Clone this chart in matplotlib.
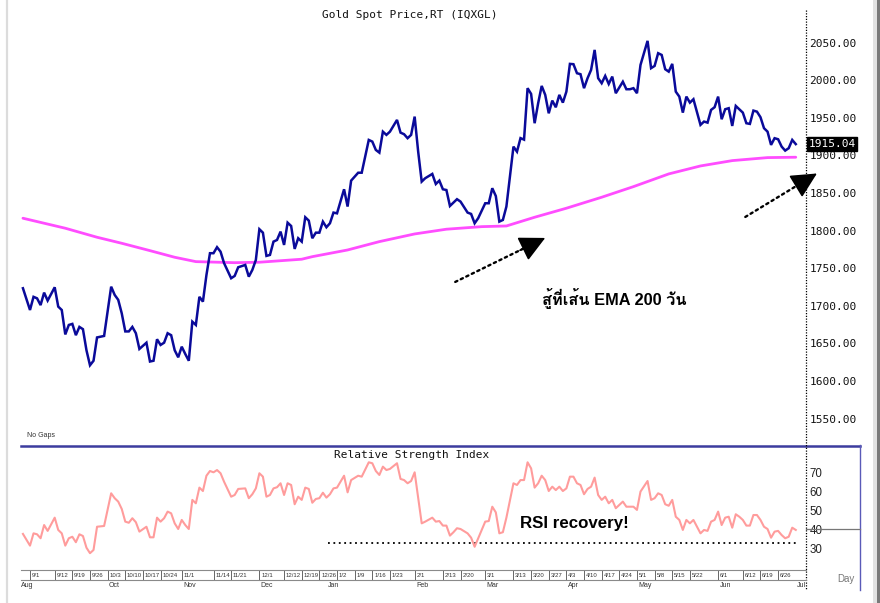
import numpy as np
import matplotlib
matplotlib.use('Agg')
import matplotlib.pyplot as plt
from matplotlib import font_manager as fm
from matplotlib.ft2font import FT2Font

# ---------------- data ----------------
# x = trading-day number counted from Mon 2022-08-29 (weekdays)
price_day = [1, 3, 4, 5, 6, 7, 8, 10, 11, 12, 13, 14, 15, 16, 17, 18, 19, 20, 21, 22,
             24, 26, 27, 28, 29, 30, 31, 32, 33, 34, 36, 37, 38, 39, 40, 41, 42, 43, 44, 45,
             46, 47, 48, 49, 50, 51, 52, 53, 54, 55, 56, 57, 58, 60, 61, 62, 64, 65, 66, 67,
             68, 69, 70, 71, 72, 73, 74, 75, 76, 77, 78, 79, 80, 81, 82, 83, 84, 85, 86, 87,
             88, 89, 90, 92, 93, 94, 96, 97, 99, 100, 101, 102, 103, 104, 105, 107, 108, 109, 110, 111,
             112, 113, 114, 115, 117, 118, 119, 120, 121, 122, 124, 125, 127, 128, 129, 130, 132, 133, 134, 135,
             136, 137, 138, 140, 141, 142, 143, 144, 145, 146, 147, 148, 149, 150, 151, 152, 153, 154, 155, 156,
             157, 158, 159, 160, 161, 162, 163, 164, 165, 166, 167, 168, 169, 171, 172, 173, 174, 175, 176, 178,
             179, 180, 181, 182, 183, 184, 185, 186, 187, 188, 189, 190, 191, 193, 194, 195, 196, 197, 198, 199,
             200, 201, 202, 203, 204, 205, 206, 207, 208, 209, 210, 211, 212, 213, 214, 215, 216, 217, 218, 219, 220]
price_val = [1723.4, 1694.5, 1712.0, 1710.0, 1701.0, 1717.6, 1707.0, 1724.7, 1699.0, 1694.5, 1662.0, 1674.6, 1676.0, 1661.0, 1672.0, 1669.0, 1641.0, 1621.0, 1627.0, 1658.0,
             1660.0, 1725.5, 1714.5, 1708.0, 1690.0, 1666.0, 1666.0, 1672.0, 1663.6, 1642.7, 1651.0, 1626.0, 1627.0, 1655.6, 1648.0, 1651.0, 1663.6, 1661.0, 1641.0, 1631.6,
             1645.7, 1636.0, 1627.0, 1679.0, 1674.6, 1712.0, 1705.6, 1741.0, 1770.0, 1770.0, 1778.0, 1772.0, 1756.7, 1736.7, 1739.8, 1751.3, 1754.4, 1738.8, 1747.7, 1761.0,
             1801.9, 1797.3, 1766.4, 1767.7, 1785.4, 1787.6, 1798.7, 1781.0, 1810.6, 1806.2, 1775.7, 1789.9, 1785.4, 1817.8, 1813.3, 1789.9, 1797.3, 1797.3, 1812.0, 1804.5,
             1809.8, 1824.0, 1823.0, 1855.0, 1832.0, 1866.5, 1877.0, 1877.0, 1920.6, 1918.4, 1907.3, 1903.7, 1931.6, 1927.3, 1931.6, 1947.2, 1930.3, 1928.2, 1922.9, 1927.3,
             1951.6, 1905.0, 1865.2, 1869.7, 1875.4, 1862.0, 1866.5, 1855.0, 1854.0, 1832.8, 1841.8, 1838.6, 1824.0, 1822.2, 1809.8, 1816.5, 1836.4, 1836.4, 1856.4, 1846.0,
             1812.0, 1814.2, 1832.0, 1911.7, 1905.0, 1923.0, 1921.0, 1989.4, 1981.8, 1942.8, 1969.4, 1992.4, 1980.5, 1956.0, 1972.9, 1964.0, 1980.5, 1970.2, 1984.8, 2021.7,
             2021.3, 2009.3, 2008.0, 1989.4, 2002.7, 2013.7, 2040.3, 2002.7, 1996.0, 2005.7, 1995.0, 2004.8, 1982.7, 1998.0, 1988.0, 1988.0, 1989.4, 1982.7, 2020.3, 2052.3,
             2016.0, 2019.0, 2035.9, 2033.6, 2014.6, 2011.4, 2021.7, 1984.8, 1978.2, 1956.9, 1978.2, 1970.2, 1974.7, 1940.6, 1945.0, 1943.6, 1960.5, 1964.1, 1978.2, 1948.1,
             1961.4, 1962.8, 1939.2, 1965.8, 1961.4, 1956.9, 1942.8, 1941.9, 1959.6, 1958.2, 1950.8, 1936.2, 1931.6, 1914.0, 1922.9, 1921.5, 1911.7, 1906.4, 1909.6, 1920.6, 1915.04]

ema_day = [1, 13, 22, 29, 37, 44, 50, 61, 68, 80, 83, 93, 102, 112, 121, 131, 138, 146, 155, 165,
           174, 184, 193, 202, 212, 220]
ema_val = [1816.5, 1803.2, 1791.2, 1783.2, 1773.4, 1764.6, 1758.8, 1757.4, 1758.0, 1762.0, 1765.4, 1774.3, 1785.4, 1795.6, 1801.9, 1805.3, 1806.2, 1817.8, 1829.8, 1844.4,
           1858.5, 1875.4, 1886.0, 1893.1, 1897.1, 1897.6]

rsi_day = [1, 3, 4, 5, 6, 7, 8, 10, 11, 12, 13, 14, 15, 16, 17, 18, 19, 20, 21, 22,
           24, 26, 27, 28, 29, 30, 31, 32, 33, 34, 36, 37, 38, 39, 40, 41, 42, 43, 44, 45,
           46, 47, 48, 49, 50, 51, 52, 53, 54, 55, 56, 57, 58, 60, 61, 62, 64, 65, 66, 67,
           68, 69, 70, 71, 72, 73, 74, 75, 76, 77, 78, 79, 80, 81, 82, 83, 84, 85, 86, 87,
           88, 89, 90, 92, 93, 94, 96, 97, 99, 100, 101, 102, 103, 104, 105, 107, 108, 109, 110, 111,
           112, 114, 115, 117, 118, 119, 120, 121, 122, 123, 124, 125, 127, 128, 129, 132, 133, 134, 135, 136,
           137, 138, 140, 141, 142, 143, 144, 145, 146, 147, 148, 149, 150, 151, 152, 153, 154, 155, 156, 157,
           158, 159, 160, 161, 162, 163, 164, 165, 166, 167, 168, 169, 171, 172, 174, 175, 176, 178, 179, 180,
           181, 182, 183, 184, 185, 186, 187, 188, 189, 190, 191, 193, 194, 195, 196, 197, 198, 199, 200, 201,
           202, 203, 204, 205, 206, 207, 208, 209, 210, 211, 212, 213, 214, 215, 216, 217, 218, 219, 220]
rsi_val = [37.6, 31.4, 37.9, 37.4, 35.3, 42.3, 39.2, 46.2, 39.7, 37.9, 31.4, 35.3, 36.1, 33.2, 37.4, 36.5, 30.3, 27.4, 29.1, 41.4,
           41.8, 59.1, 56.5, 54.7, 50.8, 44.1, 43.5, 45.9, 43.8, 38.8, 41.4, 35.8, 35.8, 46.2, 44.1, 45.9, 49.4, 48.5, 43.2, 40.2,
           45.0, 42.3, 40.2, 55.6, 53.8, 62.1, 60.3, 68.4, 70.9, 70.2, 71.4, 69.7, 65.2, 57.3, 58.2, 61.4, 61.7, 56.5, 58.6, 61.7,
           69.7, 67.9, 57.3, 58.2, 61.7, 62.3, 64.4, 58.2, 64.4, 63.5, 53.3, 57.3, 55.6, 62.1, 61.4, 54.1, 56.1, 56.5, 59.4, 56.8,
           58.6, 61.7, 62.1, 68.4, 59.6, 66.1, 68.4, 67.9, 75.5, 75.0, 70.9, 68.8, 73.2, 71.4, 72.0, 75.0, 66.7, 66.1, 64.4, 65.6,
           70.2, 43.2, 44.1, 46.2, 44.1, 44.4, 42.0, 42.0, 36.7, 38.5, 40.6, 40.2, 37.9, 35.6, 30.8, 44.1, 44.4, 52.0, 49.0, 37.9,
           38.5, 46.2, 64.4, 63.5, 66.1, 66.1, 75.5, 72.3, 62.1, 64.4, 68.4, 66.1, 60.3, 62.6, 60.8, 62.6, 60.3, 61.7, 67.9, 67.9,
           64.4, 63.5, 58.6, 61.4, 62.6, 67.4, 58.2, 55.6, 57.3, 53.8, 55.6, 51.2, 54.7, 52.0, 52.0, 50.3, 60.0, 65.6, 55.6, 56.5,
           59.1, 58.2, 53.3, 52.5, 55.6, 46.7, 45.0, 39.7, 45.0, 43.2, 45.0, 37.9, 39.7, 39.2, 44.1, 45.0, 49.4, 42.3, 46.2, 46.7,
           40.9, 48.0, 46.7, 45.0, 42.0, 42.0, 47.6, 47.6, 45.0, 41.4, 40.2, 35.6, 38.8, 39.2, 37.0, 35.3, 36.1, 40.9, 39.7]

price_ticks = [1550, 1600, 1650, 1700, 1750, 1800, 1850, 1900, 1950, 2000, 2050]
rsi_ticks = [30, 40, 50, 60, 70]
rsi_ref_level = 40
rsi_support_level = 33
rsi_support_span = [87.5, 220.4]

week_dates = ['2022-09-01', '2022-09-12', '2022-09-19', '2022-09-26', '2022-10-03', '2022-10-10', '2022-10-17',
              '2022-10-24', '2022-11-01', '2022-11-14', '2022-11-21', '2022-12-01', '2022-12-12', '2022-12-19',
              '2022-12-26', '2023-01-02', '2023-01-09', '2023-01-16', '2023-01-23', '2023-02-01', '2023-02-13',
              '2023-02-20', '2023-03-01', '2023-03-13', '2023-03-20', '2023-03-27', '2023-04-03', '2023-04-10',
              '2023-04-17', '2023-04-24', '2023-05-01', '2023-05-08', '2023-05-15', '2023-05-22', '2023-06-01',
              '2023-06-12', '2023-06-19', '2023-06-26']
week_labels = ['9/1', '9/12', '9/19', '9/26', '10/3', '10/10', '10/17', '10/24', '11/1', '11/14', '11/21',
               '12/1', '12/12', '12/19', '12/26', '1/2', '1/9', '1/16', '1/23', '2/1', '2/13', '2/20', '3/1',
               '3/13', '3/20', '3/27', '4/3', '4/10', '4/17', '4/24', '5/1', '5/8', '5/15', '5/22', '6/1',
               '6/12', '6/19', '6/26']
month_dates = ['2022-08-29', '2022-10-03', '2022-11-01', '2022-12-01', '2022-12-28', '2023-02-01', '2023-03-01',
               '2023-04-03', '2023-05-01', '2023-06-01', '2023-07-03']
month_labels = ['Aug', 'Oct', 'Nov', 'Dec', 'Jan', 'Feb', 'Mar', 'Apr', 'May', 'Jun', 'Jul']

# annotation arrows: (tail day, tail price) -> (tip day, tip price)
arrow_ema = [(123.5, 1731.8), (149.0, 1790.3)]
arrow_last = [(205.7, 1818.2), (226.0, 1876.0)]

title_main = 'Gold Spot Price,RT (IQXGL)'
title_rsi = 'Relative Strength Index'
note_thai = 'สู้ที่เส้น EMA 200 วัน'
note_rsi = 'RSI recovery!'

# ---------------- fonts ----------------
def font_with(ch):
    found = []
    for f in fm.fontManager.ttflist:
        try:
            if ord(ch) in FT2Font(f.fname).get_charmap():
                found.append(f.name)
        except Exception:
            pass
    for n in found:
        if 'Sans' in n or 'Loma' in n or 'Garuda' in n:
            return n
    return found[0] if found else 'DejaVu Sans'

THAI = font_with('ส')
SANS = 'Liberation Sans'
MONO = 'DejaVu Sans Mono'

# ---------------- layout ----------------
W, H = 880, 603
fig = plt.figure(figsize=(W / 100, H / 100), dpi=100)
fig.patch.set_facecolor('white')

def box(x0, y0, x1, y1):
    return [x0 / W, 1 - y1 / H, (x1 - x0) / W, (y1 - y0) / H]

ax = fig.add_axes(box(21, 8, 806, 445))
axr = fig.add_axes(box(21, 447, 806, 570), sharex=ax)
axd = fig.add_axes(box(21, 570, 806, 580), sharex=ax)

base = np.datetime64('2022-08-29')
def dix(s):
    return int(np.busday_count(base, np.datetime64(s)))

# ---------------- price panel ----------------
ax.plot(ema_day, ema_val, color='#ff4dff', lw=2.0, solid_capstyle='round', zorder=2)
ax.plot(price_day, price_val, color='#0a0a9a', lw=1.8, solid_joinstyle='miter', zorder=3)
ax.set_xlim(0.45, 222.9)
ax.set_ylim(1515, 2096)
for s in ax.spines.values():
    s.set_visible(False)
ax.yaxis.tick_right()
ax.set_yticks(price_ticks)
ax.set_yticklabels([f'{v:.2f}' for v in price_ticks], family=MONO, fontsize=8, color='#111')
ax.tick_params(axis='y', length=0, pad=2.5)
ax.tick_params(axis='x', bottom=False, labelbottom=False)
ax.set_facecolor('none')

ax.text(1.003, price_val[-1], f'{price_val[-1]:.2f}', transform=ax.get_yaxis_transform(),
        ha='left', va='center', family=MONO, fontsize=8, color='white',
        bbox=dict(boxstyle='square,pad=0.15', fc='black', ec='black'), clip_on=False, zorder=6)

ax.text(0.008, 0.018, 'No Gaps', transform=ax.transAxes, fontsize=5, family=SANS, color='#333')

# arrows: dotted shaft + solid filled head
def dotted_arrow(a, tail, tip, frac=0.72):
    a.annotate('', xy=tip, xytext=tail, annotation_clip=False,
               arrowprops=dict(arrowstyle='-', color='black', lw=1.7, linestyle=(0, (1, 1.6)),
                               shrinkA=0, shrinkB=6))
    mid = (tail[0] + frac * (tip[0] - tail[0]), tail[1] + frac * (tip[1] - tail[1]))
    a.annotate('', xy=tip, xytext=mid, annotation_clip=False,
               arrowprops=dict(arrowstyle='-|>,head_length=0.8,head_width=0.4', color='black', lw=1.2,
                               mutation_scale=20, shrinkA=0, shrinkB=0))

dotted_arrow(ax, *arrow_ema)
dotted_arrow(ax, *arrow_last)
ax.text(148.0, 1701.2, note_thai, ha='left', va='baseline', fontsize=11.8, fontweight='bold',
        family=[SANS, THAI, 'DejaVu Sans'], color='black')

# ---------------- RSI panel ----------------
axr.plot(rsi_day, rsi_val, color='#ff9c9c', lw=1.5, zorder=3)
axr.plot(rsi_support_span, [rsi_support_level] * 2, color='black', lw=1.3, linestyle=(0, (1, 2)))
axr.set_ylim(18.5, 83.6)
for s in axr.spines.values():
    s.set_visible(False)
axr.yaxis.tick_right()
axr.set_yticks(rsi_ticks)
axr.set_yticklabels([str(v) for v in rsi_ticks], family=SANS, fontsize=8.3, color='#222')
axr.tick_params(axis='y', length=0, pad=2.5)
axr.tick_params(axis='x', bottom=False, labelbottom=False)
axr.set_facecolor('none')
axr.plot([1.0, 1.069], [rsi_ref_level] * 2, transform=axr.get_yaxis_transform(), color='#777',
         lw=0.9, clip_on=False)
axr.text(141.9, 40.9, note_rsi, ha='left', va='baseline', fontsize=12.2, fontweight='bold',
         family=[SANS, 'DejaVu Sans'], color='black')

# ---------------- date strip ----------------
axd.set_facecolor('none')
for k in ['left', 'right']:
    axd.spines[k].set_visible(False)
for k in ['top', 'bottom']:
    axd.spines[k].set_color('#8a8a8a')
    axd.spines[k].set_linewidth(0.8)
axd.set_ylim(0, 1)
axd.set_yticks([])
axd.tick_params(axis='x', bottom=False, labelbottom=False)
for d, lab in zip(week_dates, week_labels):
    x = dix(d)
    axd.plot([x, x], [0, 1], color='#666', lw=0.7)
    axd.text(x + 0.5, 0.45, lab, ha='left', va='center', fontsize=4.3, family=SANS, color='#333')
xt = axd.get_xaxis_transform()
for d, lab in zip(month_dates, month_labels):
    axd.text(dix(d) + 0.4, -0.55, lab, transform=xt, ha='left', va='center', fontsize=5,
             family=SANS, color='#333', clip_on=False)

# ---------------- overlay frame (pixel coordinates) ----------------
ov = fig.add_axes([0, 0, 1, 1], zorder=-1)
ov.set_xlim(0, W)
ov.set_ylim(H, 0)
ov.axis('off')
ov.plot([7, 7], [0, H], color='#dcdcdc', lw=1.6)
ov.add_patch(plt.Rectangle((873, 0), 4, H, color='#e2e2e2', lw=0))
ov.add_patch(plt.Rectangle((877, 0), 3, H, color='#7a7a7a', lw=0))
ov.plot([21, 860], [445.5, 445.5], color='#3c3c9e', lw=1.8)
ov.plot([860, 860], [445, 590], color='#5a5ab8', lw=1.0)
ov.plot([806, 806], [10, 590], color='black', lw=0.9, linestyle=(0, (1, 1.2)))
ov.text(410, 15, title_main, ha='center', va='center', family=MONO, fontsize=8, color='#111')
ov.text(412, 455, title_rsi, ha='center', va='center', family=MONO, fontsize=8, color='#111')
ov.text(845.5, 578.5, 'Day', ha='center', va='center', family=SANS, fontsize=7, color='#777')

fig.savefig('out.png', dpi=100, facecolor='white')
